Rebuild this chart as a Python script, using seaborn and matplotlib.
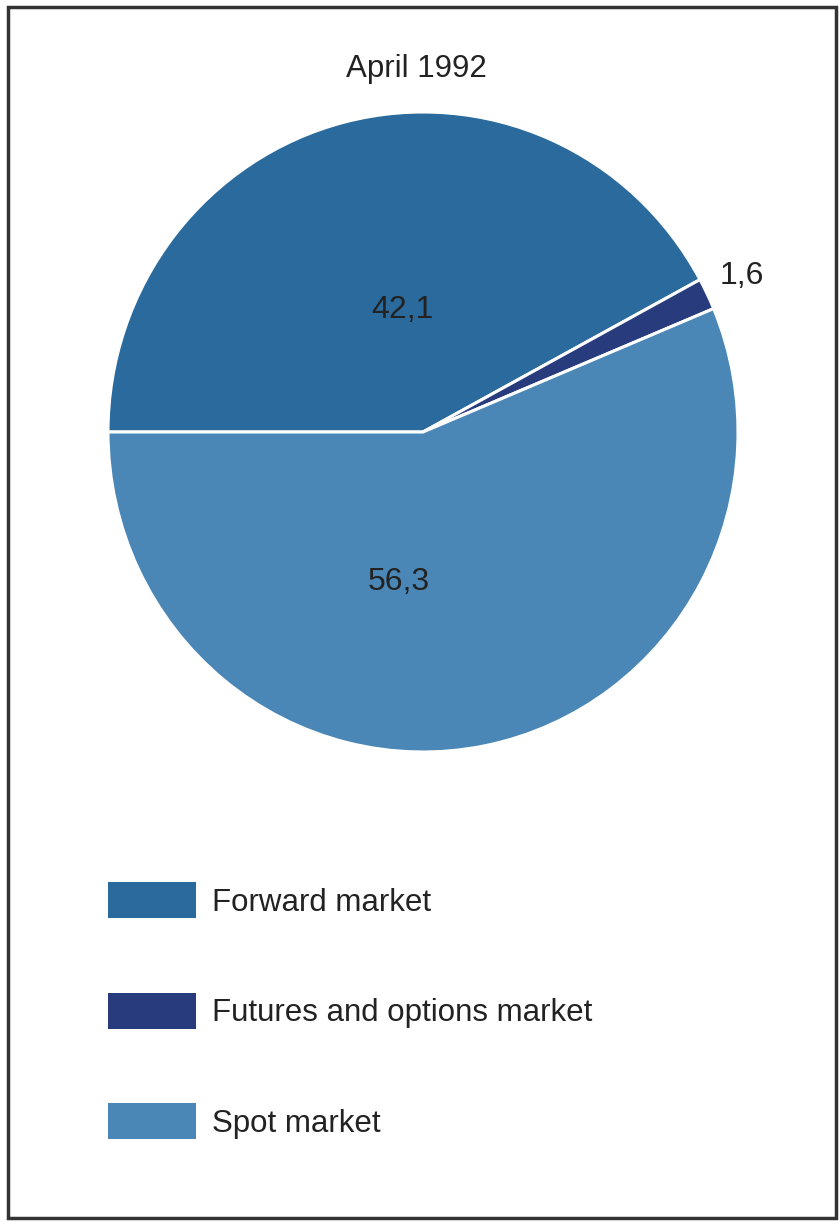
import matplotlib
matplotlib.use("Agg")
import matplotlib.pyplot as plt
from matplotlib.patches import Patch, Rectangle
import seaborn as sns

sns.set_theme(style="white")
plt.rcParams['font.family'] = ['Liberation Sans', 'DejaVu Sans']

categories = ["Forward market", "Futures and options market", "Spot market"]
values = [42.1, 1.6, 56.3]
value_labels = ["42,1", "1,6", "56,3"]
colors = ["#2b6a9c", "#283b7d", "#4a87b6"]
title = "April 1992"

W, H = 839, 1222
fig = plt.figure(figsize=(W / 100, H / 100), dpi=100)
fig.patch.set_facecolor("white")

cx, cy, rx, ry = 423, 432, 315, 320
ax = fig.add_axes([(cx - rx) / W, 1 - (cy + ry) / H, 2 * rx / W, 2 * ry / H])
wedges, _ = ax.pie(values, colors=colors, startangle=180, counterclock=False,
                   radius=1, wedgeprops=dict(edgecolor="white", linewidth=2.2))
ax.set_xlim(-1, 1)
ax.set_ylim(-1, 1)
ax.set_aspect("auto")
ax.axis("off")

# value labels (data coords of pie axes)
lab_fs = 23
tc = "#222222"
ax.text((402 - cx) / rx, (cy - 310) / ry, value_labels[0], ha="center", va="center", fontsize=lab_fs, color=tc)
ax.text((742 - cx) / rx, (cy - 276) / ry, value_labels[1], ha="center", va="center", fontsize=lab_fs, color=tc)
ax.text((399 - cx) / rx, (cy - 582) / ry, value_labels[2], ha="center", va="center", fontsize=lab_fs, color=tc)

fig.text(416 / W, 1 - 77 / H, title, ha="center", va="baseline", fontsize=22.5, color=tc)

handles = [Patch(facecolor=c, edgecolor="none") for c in colors]
fs = 22.5
fpx = fs * 100 / 72
hh = (36 / fpx - 0.245) / 0.65
desc = 0.35 * fpx * (hh - 0.7)
fig.legend(handles, categories, loc="upper left",
           bbox_to_anchor=(108 / W, 1 - (890 - desc) / H), bbox_transform=fig.transFigure,
           frameon=False, borderpad=0, borderaxespad=0, fontsize=fs,
           handlelength=88 / fpx, handleheight=hh,
           labelspacing=(118 - hh * fpx) / fpx, handletextpad=16 / fpx,
           labelcolor=tc)

fig.patches.append(Rectangle((8 / W, 1 - 1218 / H), (836 - 8) / W, (1218 - 7) / H,
                             transform=fig.transFigure, fill=False,
                             edgecolor="#333333", linewidth=2.5))

fig.savefig("out.png", dpi=100, facecolor="white")
